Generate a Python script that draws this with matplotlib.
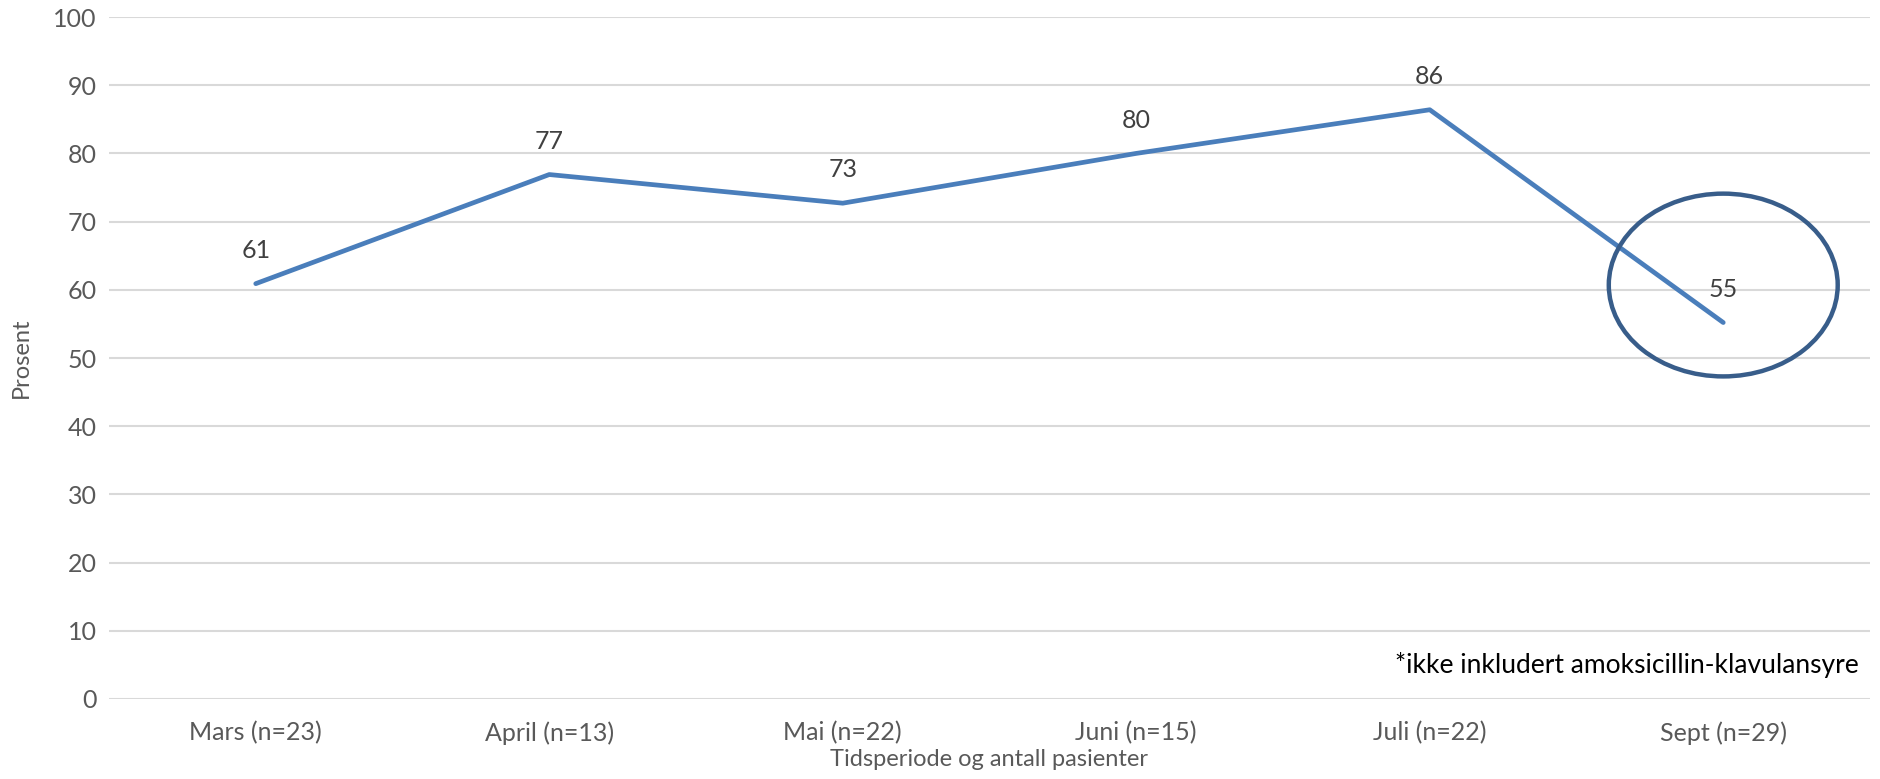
import numpy as np
import matplotlib.pyplot as plt
from matplotlib.patches import Ellipse

plt.rcParams['font.family'] = ['Lato', 'DejaVu Sans']

months = ['Mars (n=23)', 'April (n=13)', 'Mai (n=22)', 'Juni (n=15)', 'Juli (n=22)', 'Sept (n=29)']
percent = [60.9, 76.9, 72.7, 80.0, 86.4, 55.2]
yticks = [0, 10, 20, 30, 40, 50, 60, 70, 80, 90, 100]
footnote = '*ikke inkludert amoksicillin-klavulansyre'

fig = plt.figure(figsize=(18.81, 7.79), dpi=100)
ax = fig.add_axes([109 / 1881, 80 / 779, 1761 / 1881, 682 / 779])

x = np.arange(len(months))
ax.plot(x, percent, color='#4A7EBB', lw=3.4, solid_capstyle='round', zorder=3)
for xi, v in zip(x, percent):
    ax.annotate(f'{v:.0f}', (xi, v), xytext=(0, 24), textcoords='offset points',
                ha='center', va='center', fontsize=18, color='#404040')

# ring around the last month
ax.add_patch(Ellipse((5, 60.7), 0.78, 26.8, fill=False, ec='#385D8A', lw=3.2, zorder=4))

ax.set_xlim(-0.5, 5.5)
ax.set_ylim(0, 100)
ax.set_xticks(x, months)
ax.set_yticks(yticks)
ax.grid(axis='y', color='#D9D9D9', lw=1.5)
ax.set_axisbelow(True)
for s in ax.spines.values():
    s.set_visible(False)
ax.tick_params(length=0, labelsize=18, labelcolor='#595959', pad=9)
ax.tick_params(axis='x', pad=16)
ax.set_ylabel('Prosent', fontsize=17, color='#595959', labelpad=15)
ax.set_xlabel('Tidsperiode og antall pasienter', fontsize=17, color='#595959', labelpad=3)

ax.text(0.9935, 0.05, footnote, transform=ax.transAxes, ha='right', va='center',
        fontsize=19, color='black')

fig.savefig('out.png', dpi=100)
